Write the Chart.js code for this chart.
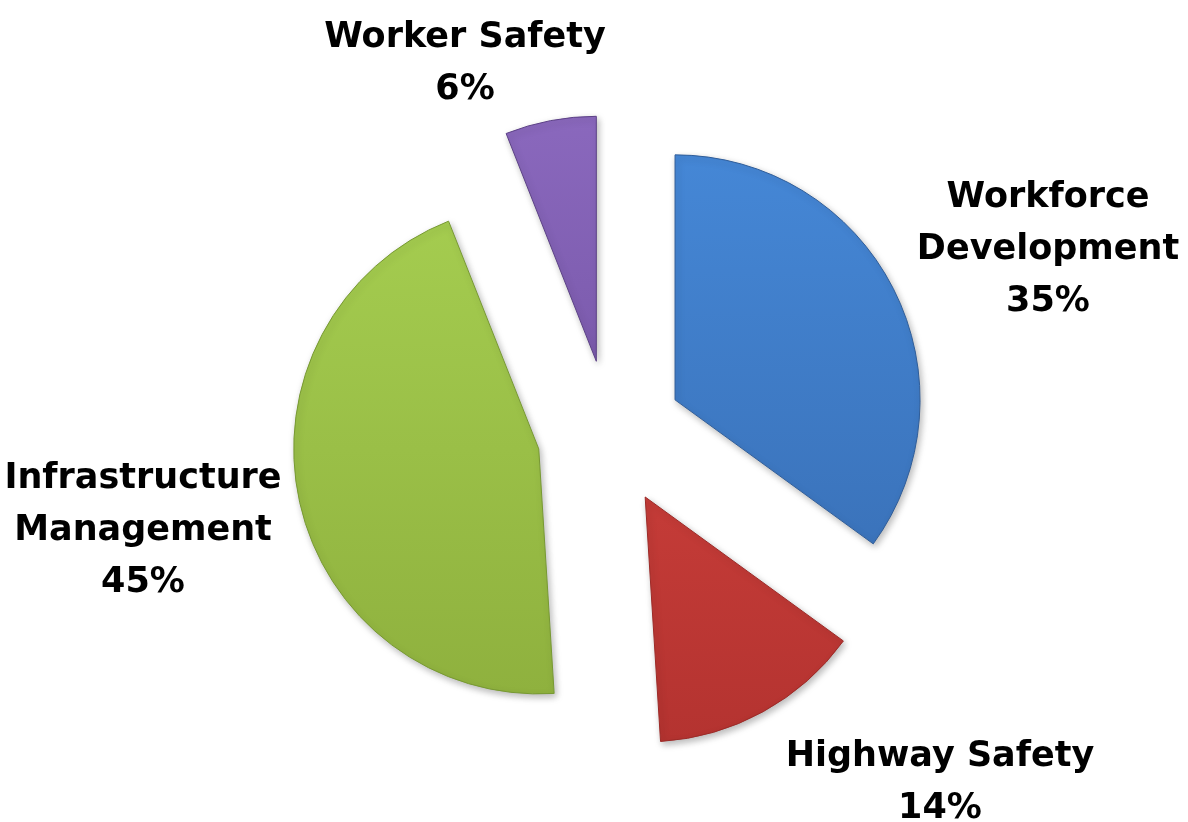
<!DOCTYPE html>
<html>
<head>
<meta charset="utf-8">
<script src="https://cdn.jsdelivr.net/npm/chart.js@4.4.1/dist/chart.umd.min.js"></script>
<style>
  html, body { margin: 0; padding: 0; background: #ffffff; }
  #wrap { width: 1188px; height: 822px; }
</style>
</head>
<body>
<div id="wrap"><canvas id="c" width="1188" height="822"></canvas></div>
<script>
// ---- data ----
const categories = ['Workforce Development', 'Highway Safety', 'Infrastructure Management', 'Worker Safety'];
const labelLines = [['Workforce', 'Development'], ['Highway Safety'], ['Infrastructure', 'Management'], ['Worker Safety']];
const shares = [35, 14, 45, 6];
const pctLabels = ['35%', '14%', '45%', '6%'];

// ---- style ----
const lightColors = ['#4587d6', '#d5443f', '#a5cd50', '#8a68bd'];
const darkColors  = ['#386eb4', '#b43330', '#8fb13e', '#6d4e9d'];
const edgeColors  = ['#2f5d99', '#9c2a27', '#779932', '#5c4186'];
const RADIUS = 245;
const EXPLODE = 73;

function sliceMid(i) {
  const total = shares.reduce((a, b) => a + b, 0);
  let before = 0;
  for (let j = 0; j < i; j++) before += shares[j];
  return -Math.PI / 2 + (before + shares[i] / 2) / total * Math.PI * 2;
}

function sliceFill(context) {
  const chart = context.chart;
  const i = context.dataIndex;
  const area = chart.chartArea;
  if (!area) return lightColors[i];
  const cy = (area.top + area.bottom) / 2 + Math.sin(sliceMid(i)) * EXPLODE;
  const g = chart.ctx.createLinearGradient(0, cy - RADIUS, 0, cy + RADIUS);
  g.addColorStop(0, lightColors[i]);
  g.addColorStop(1, darkColors[i]);
  return g;
}

const explodePlugin = {
  id: 'explode',
  afterDatasetUpdate(chart, args, opts) {
    const meta = args.meta;
    meta.data.forEach((arc) => {
      const mid = (arc.startAngle + arc.endAngle) / 2;
      arc.x += Math.cos(mid) * opts.distance;
      arc.y += Math.sin(mid) * opts.distance;
    });
  },
  beforeDatasetsDraw(chart) {
    const ctx = chart.ctx;
    ctx.save();
    ctx.shadowColor = 'rgba(0,0,0,0.28)';
    ctx.shadowBlur = 7;
    ctx.shadowOffsetX = 2;
    ctx.shadowOffsetY = 3;
  },
  afterDatasetsDraw(chart) {
    chart.ctx.restore();
  }
};

const outsideLabels = {
  id: 'outsideLabels',
  afterDraw(chart, args, opts) {
    const ctx = chart.ctx;
    ctx.save();
    ctx.font = opts.font;
    ctx.fillStyle = opts.color;
    ctx.textAlign = 'center';
    ctx.textBaseline = 'alphabetic';
    labelLines.forEach((lines, i) => {
      const a = opts.anchors[i];
      const all = lines.concat([pctLabels[i]]);
      all.forEach((t, k) => ctx.fillText(t, a.x, a.y + k * opts.lineHeight));
    });
    ctx.restore();
  }
};

new Chart(document.getElementById('c'), {
  type: 'pie',
  data: {
    labels: categories,
    datasets: [{
      data: shares,
      backgroundColor: sliceFill,
      borderColor: edgeColors,
      borderWidth: 1,
      radius: RADIUS
    }]
  },
  options: {
    responsive: false,
    devicePixelRatio: 1,
    animation: false,
    rotation: 0,
    layout: { padding: { left: 32, top: 44, right: 0, bottom: 0 } },
    plugins: {
      legend: { display: false },
      tooltip: { enabled: false },
      explode: { distance: EXPLODE },
      outsideLabels: {
        font: 'bold 35px "DejaVu Sans"',
        color: '#000000',
        lineHeight: 52,
        anchors: [
          { x: 1048, y: 207 },
          { x: 940, y: 766 },
          { x: 143, y: 488 },
          { x: 465, y: 47 }
        ]
      }
    }
  },
  plugins: [explodePlugin, outsideLabels]
});
</script>
</body>
</html>
